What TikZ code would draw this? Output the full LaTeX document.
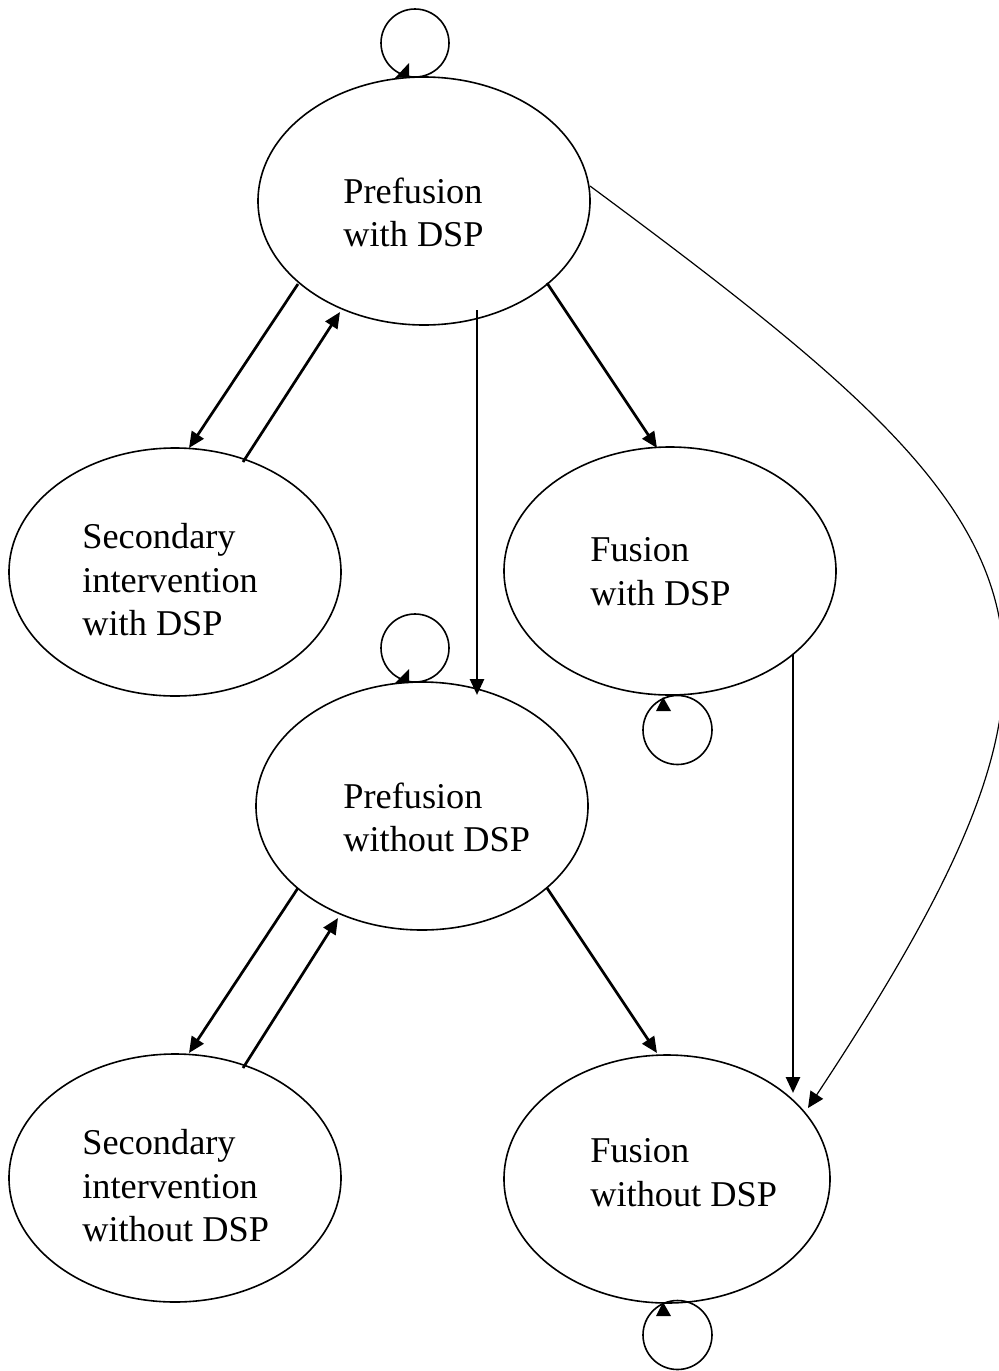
\documentclass[tikz,border=0pt]{standalone}
\usepackage{fontspec}
\setmainfont{Liberation Serif}
\usetikzlibrary{arrows.meta,calc,shapes.geometric}
\begin{document}
\begin{tikzpicture}[x=0.5pt,y=-0.5pt,
  state/.style={ellipse,draw,line width=0.8pt,minimum width=166pt,minimum height=124pt,inner sep=0pt},
  lbl/.style={anchor=north west,align=left,inner sep=0pt,font=\fontsize{18.15pt}{21.75pt}\selectfont},
  edge/.style={line width=1.35pt,-{Triangle[length=8pt,width=7pt]}},
  thinedge/.style={line width=0.6pt,-{Triangle[length=8pt,width=7.5pt]}},
  loopline/.style={line width=0.8pt},
  looptip/.style={fill=black}]
\useasboundingbox (0,0) rectangle (999,1371);

% states
\node[state] (pw)  at (424,201)  {};
\node[state] (sw)  at (175,572)  {};
\node[state] (fw)  at (670,571)  {};
\node[state] (pwo) at (422,806)  {};
\node[state] (swo) at (175,1178) {};
\node[state,minimum width=163pt] (fwo) at (667,1179) {};

% labels
\node[lbl] (pwt)  at (343,177.2)  {Prefusion\\with DSP};
\node[lbl] (swt)  at (82,523.2)   {Secondary\\intervention\\with DSP};
\node[lbl] (fwt)  at (590,537.2)  {Fusion\\with DSP};
\node[lbl] (pwot) at (343,782.2)  {Prefusion\\without DSP};
\node[lbl] (swot) at (82,1129.2)  {Secondary\\intervention\\without DSP};
\node[lbl] (fwot) at (590,1138.2) {Fusion\\without DSP};

% straight connectors
\draw[edge] ($(pw)+(-126,83)$)  -- ($(sw)+(14,-124)$);
\draw[edge] ($(sw)+(68,-110)$)  -- ($(pw)+(-84,111)$);
\draw[edge] ($(pw)+(123,82)$)   -- ($(fw)+(-13,-123)$);
\draw[edge] ($(pw)+(53,109)$)   -- ($(pwo)+(55,-111)$);
\draw[edge] ($(pwo)+(-124,82)$) -- ($(swo)+(14,-125)$);
\draw[edge] ($(swo)+(68,-110)$) -- ($(pwo)+(-84,112)$);
\draw[edge] ($(pwo)+(125,82)$)  -- ($(fwo)+(-10,-126)$);
\draw[edge] ($(fw)+(123,83)$)   -- ($(fwo)+(126,-86)$);

% long curved connector
\draw[thinedge] ($(pw)+(166,-15)$) .. controls (1052,528) and (1127,625) .. ($(fwo)+(141,-71)$);

% self loops
\draw[loopline] ($(pw)+(-9,-158)$) circle[radius=17pt];
\fill[looptip] ($(pw)+(-29,-123)$) -- ($(pw)+(-15,-138)$) -- ($(pw)+(-15,-124)$) -- cycle;

\draw[loopline] ($(pwo)+(-7,-158)$) circle[radius=17pt];
\fill[looptip] ($(pwo)+(-27,-123)$) -- ($(pwo)+(-13,-137)$) -- ($(pwo)+(-13,-123)$) -- cycle;

\draw[loopline] ($(fw)+(7.5,159)$) circle[radius=17.25pt];
\fill[looptip] ($(fw)+(-7,126)$) -- ($(fw)+(-14,140)$) -- ($(fw)+(1,140)$) -- cycle;

\draw[loopline] ($(fwo)+(10.5,156)$) circle[radius=17.25pt];
\fill[looptip] ($(fwo)+(-4,123)$) -- ($(fwo)+(-11,137)$) -- ($(fwo)+(4,137)$) -- cycle;
\end{tikzpicture}
\end{document}
